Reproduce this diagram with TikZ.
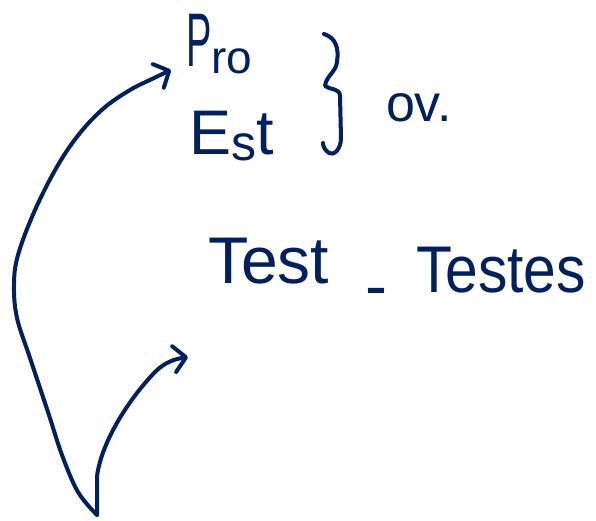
\documentclass[tikz,border=0pt]{standalone}
\usepackage{fontspec}
\setmainfont{Liberation Sans}
\usetikzlibrary{arrows.meta}
\definecolor{ink}{RGB}{0,32,96}
\tikzset{
  stroke/.style={draw=ink, line width=4pt, line cap=round, line join=round},
  arr/.style={stroke, -{Straight Barb[length=12pt,width=26pt,round]}},
  txt/.style={text=ink, inner sep=0pt, outer sep=0pt}
}
\begin{document}
\begin{tikzpicture}[x=1pt,y=-1pt]
\useasboundingbox (0,0) rectangle (596,521);
\fill[white] (0,0) rectangle (596,521);
% texts
\node[txt, anchor=base west] (pro) at (186,67)
  {\fontsize{76}{76}\selectfont\scalebox{0.5}[1]{P}\fontsize{46}{46}\selectfont\raisebox{-7pt}{ro}};
\node[txt, anchor=base west] (est) at (189,155) {\fontsize{63}{63}\selectfont E\fontsize{50}{50}\selectfont\raisebox{-6pt}{s}\fontsize{63}{63}\selectfont t};
\node[txt, anchor=base west] (ov) at (386,122) {\fontsize{52}{52}\selectfont ov.};
\node[txt, anchor=base west] (test) at (208,283) {\fontsize{66}{66}\selectfont Test};
\node[txt, anchor=base] (dash) at (376,308) {\fontsize{66}{66}\selectfont -};
\node[txt, anchor=base west] (testes) at (416,292) {\fontsize{66}{66}\selectfont\scalebox{0.89}[1]{Testes}};
% brace
\draw[stroke] (324,34) .. controls (336,38) and (339,48) .. (337,62)
  .. controls (336,72) and (326,76) .. (325,86)
  .. controls (330,90) and (340,88) .. (340,96)
  -- (341,138) .. controls (341,150) and (333,156) .. (329,153)
  .. controls (325,150) and (323,147) .. (323,143);
% arrows
\coordinate (root) at (97,515);
\coordinate (tipA) at (171,70);
\coordinate (tipB) at (188,357);
\draw[arr] plot[smooth, tension=0.6] coordinates {(root) (78,492) (62,455) (48,412) (30,358) (17,318) (14,285) (18,255) (35,210) (58,165) (80,133) (104,108) (130,90) (152,79) (tipA)};
\draw[arr] (root) -- (97,476) .. controls (102,440) and (130,398) .. (155,372) .. controls (165,362) and (175,359) .. (tipB);
\end{tikzpicture}
\end{document}
